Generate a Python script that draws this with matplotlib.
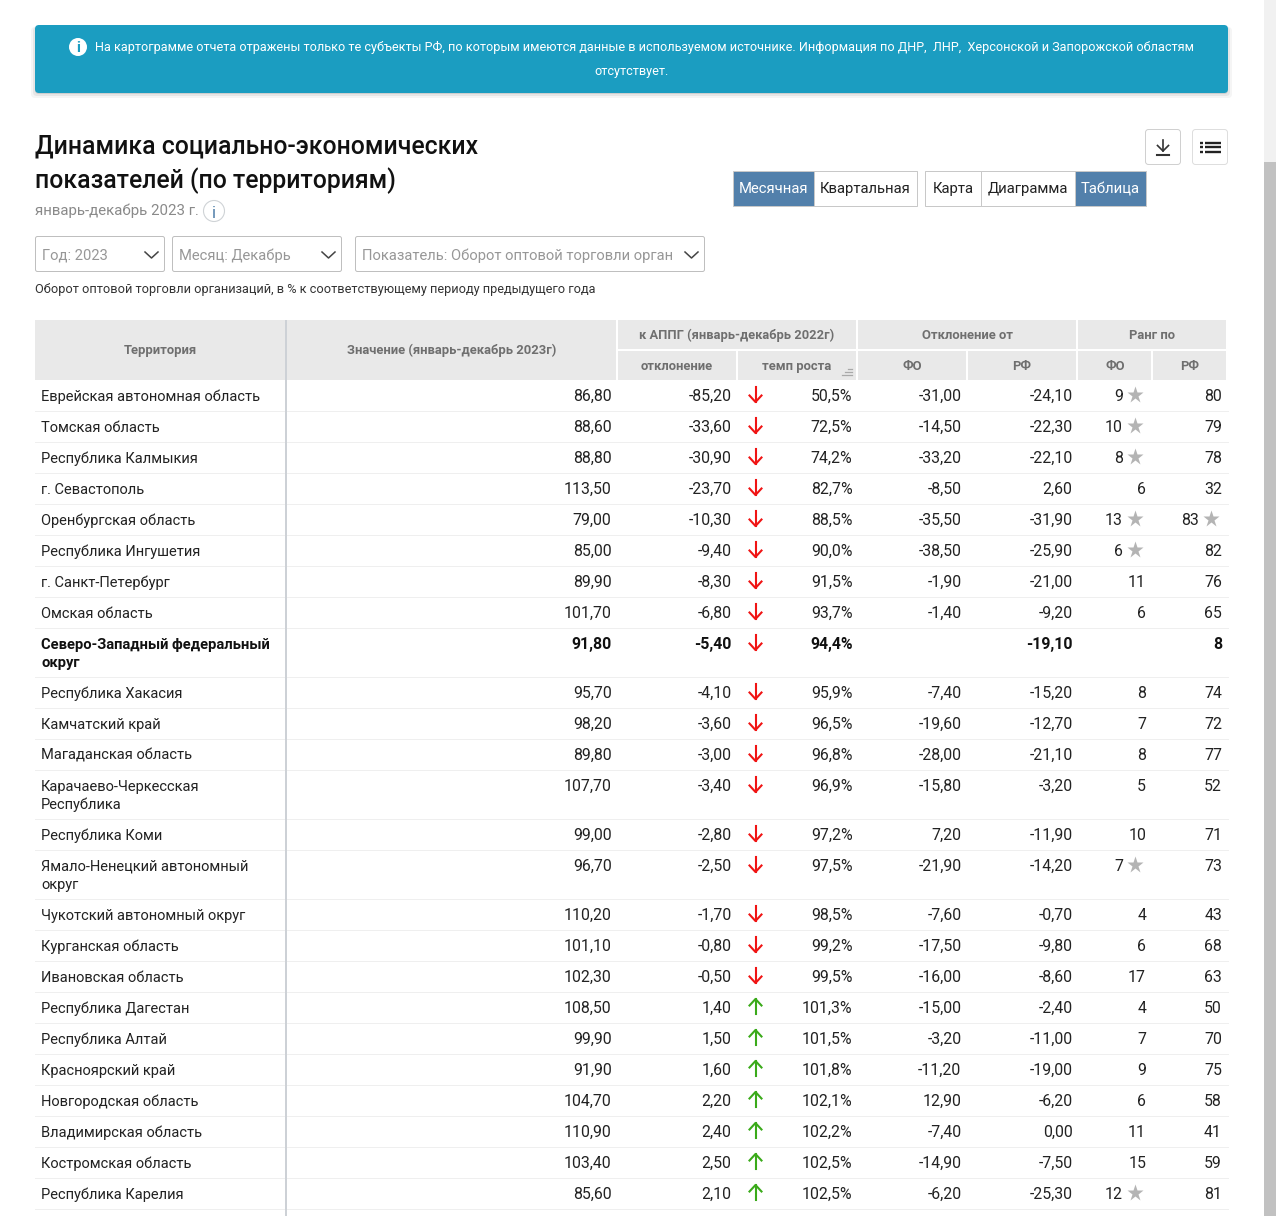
import matplotlib
matplotlib.use("Agg")
import matplotlib.pyplot as plt
from matplotlib.patches import Rectangle, FancyBboxPatch, Circle

plt.rcParams['font.family'] = ['Roboto', 'DejaVu Sans']

W, H = 1276, 1216

names = ["Еврейская автономная область", "Томская область", "Республика Калмыкия", "г. Севастополь",
         "Оренбургская область", "Республика Ингушетия", "г. Санкт-Петербург", "Омская область",
         "Северо-Западный федеральный\nокруг", "Республика Хакасия", "Камчатский край",
         "Магаданская область", "Карачаево-Черкесская\nРеспублика", "Республика Коми",
         "Ямало-Ненецкий автономный\nокруг", "Чукотский автономный округ", "Курганская область",
         "Ивановская область", "Республика Дагестан", "Республика Алтай", "Красноярский край",
         "Новгородская область", "Владимирская область", "Костромская область", "Республика Карелия"]
values = ["86,80", "88,60", "88,80", "113,50", "79,00", "85,00", "89,90", "101,70", "91,80", "95,70",
          "98,20", "89,80", "107,70", "99,00", "96,70", "110,20", "101,10", "102,30", "108,50", "99,90",
          "91,90", "104,70", "110,90", "103,40", "85,60"]
deviation = ["-85,20", "-33,60", "-30,90", "-23,70", "-10,30", "-9,40", "-8,30", "-6,80", "-5,40", "-4,10",
             "-3,60", "-3,00", "-3,40", "-2,80", "-2,50", "-1,70", "-0,80", "-0,50", "1,40", "1,50",
             "1,60", "2,20", "2,40", "2,50", "2,10"]
growth = ["50,5%", "72,5%", "74,2%", "82,7%", "88,5%", "90,0%", "91,5%", "93,7%", "94,4%", "95,9%",
          "96,5%", "96,8%", "96,9%", "97,2%", "97,5%", "98,5%", "99,2%", "99,5%", "101,3%", "101,5%",
          "101,8%", "102,1%", "102,2%", "102,5%", "102,5%"]
dev_fo = ["-31,00", "-14,50", "-33,20", "-8,50", "-35,50", "-38,50", "-1,90", "-1,40", "", "-7,40",
          "-19,60", "-28,00", "-15,80", "7,20", "-21,90", "-7,60", "-17,50", "-16,00", "-15,00", "-3,20",
          "-11,20", "12,90", "-7,40", "-14,90", "-6,20"]
dev_rf = ["-24,10", "-22,30", "-22,10", "2,60", "-31,90", "-25,90", "-21,00", "-9,20", "-19,10", "-15,20",
          "-12,70", "-21,10", "-3,20", "-11,90", "-14,20", "-0,70", "-9,80", "-8,60", "-2,40", "-11,00",
          "-19,00", "-6,20", "0,00", "-7,50", "-25,30"]
rank_fo = ["9", "10", "8", "6", "13", "6", "11", "6", "", "8", "7", "8", "5", "10", "7", "4", "6", "17",
           "4", "7", "9", "6", "11", "15", "12"]
rank_rf = ["80", "79", "78", "32", "83", "82", "76", "65", "8", "74", "72", "77", "52", "71", "73", "43",
           "68", "63", "50", "70", "75", "58", "41", "59", "81"]
star_fo = [0, 1, 2, 4, 5, 14, 24]
star_rf = [4]
bold_rows = [8]

TEXT = "#222222"
HEAD = "#6f6f6f"
HEAD_BG = "#e9e9e9"
BLUE = "#5280ab"
BORDER = "#c8c8c8"
FS = 10.5
NUM_FS = 11.4

fig = plt.figure(figsize=(W / 100, H / 100), dpi=100)
ax = fig.add_axes([0, 0, 1, 1])
ax.set_xlim(0, W)
ax.set_ylim(H, 0)
ax.axis("off")


def rect(x0, y0, x1, y1, fc="white", ec="none", lw=0.72, z=1):
    ax.add_patch(Rectangle((x0, y0), x1 - x0, y1 - y0, fc=fc, ec=ec, lw=lw, zorder=z))


def rbox(x0, y0, x1, y1, r=3, fc="white", ec="none", lw=0.72, alpha=1, z=1):
    ax.add_patch(FancyBboxPatch((x0 + r, y0 + r), x1 - x0 - 2 * r, y1 - y0 - 2 * r,
                                boxstyle="round,pad=%d,rounding_size=%d" % (r, r),
                                fc=fc, ec=ec, lw=lw, alpha=alpha, zorder=z))


def txt(x, y, s, size=FS, color=TEXT, ha="left", weight="normal", z=5):
    # y is the middle of the capitals, so all rows sit on the same baseline
    ax.text(x, y + 0.49 * size, s, fontsize=size, color=color, ha=ha, va="baseline", fontweight=weight, zorder=z)


# scrollbar
rect(1264, 0, 1276, H, fc="#f1f1f1")
rect(1264, 162, 1276, H, fc="#c1c1c1")

# banner
for grow, a in [(5, 0.04), (3, 0.06), (1, 0.1)]:
    rbox(35 - grow + 1, 27, 1228 + grow - 1, 93 + grow, r=4, fc="black", alpha=a, z=1)
rbox(35, 25, 1228, 93, r=4, fc="#1b9dc1", z=2)
ax.add_patch(Circle((78, 47), 9, fc="white", ec="none", zorder=3))
txt(78, 47, "i", size=11, color="#1b9dc1", ha="center", weight="bold")
txt(644.5, 47, "На картограмме отчета отражены только те субъекты РФ, по которым имеются данные в используемом "
    "источнике. Информация по ДНР,  ЛНР,  Херсонской и Запорожской областям",
    size=9.11, color="white", ha="center")
txt(632, 71, "отсутствует.", size=9.11, color="white", ha="center")

# title
txt(35, 145, "Динамика социально-экономических", size=17.8, color="#111111", weight="medium")
txt(35, 179, "показателей (по территориям)", size=17.8, color="#111111", weight="medium")
txt(35, 210, "январь-декабрь 2023 г.", size=10.8, color="#8a8a8a")
ax.add_patch(Circle((214, 211), 10.5, fc="white", ec="#cfd3d6", lw=0.8, zorder=3))
txt(214, 212, "i", size=12, color="#4a7ba6", ha="center")

# view switch buttons
for x0, x1, label, active in [(733, 814, "Месячная", True), (814, 917, "Квартальная", False),
                              (925, 981, "Карта", False), (981, 1075, "Диаграмма", False),
                              (1075, 1146, "Таблица", True)]:
    rect(x0, 170.5, x1, 205.5, fc=BLUE if active else "white", ec=BORDER, z=2)
    txt((x0 + x1) / 2, 188, label, size=10.7, color="white" if active else "#222222", ha="center")

# icon buttons
rbox(1145.5, 129.5, 1180.5, 164.5, r=3, ec="#d0d0d0", z=2)
rbox(1192.5, 129.5, 1227.5, 164.5, r=3, ec="#dedede", z=2)
ax.plot([1163, 1163], [140, 151], color="#333333", lw=1.2, zorder=4)
ax.plot([1157.5, 1163, 1168.5], [145.5, 151, 145.5], color="#333333", lw=1.2, zorder=4)
ax.plot([1157, 1169], [155, 155], color="#333333", lw=1.5, zorder=4)
for yy in (142.5, 147, 151.5):
    ax.plot([1200, 1203], [yy, yy], color="#222222", lw=1.7, solid_capstyle="butt", zorder=4)
    ax.plot([1205, 1221], [yy, yy], color="#222222", lw=1.7, solid_capstyle="butt", zorder=4)

# dropdowns
for x0, x1, label in [(35, 165, "Год: 2023"), (172, 342, "Месяц: Декабрь"),
                      (355, 705, "Показатель: Оборот оптовой торговли орган")]:
    rbox(x0 + 0.5, 236.5, x1 - 0.5, 271.5, r=2, ec="#bfbfbf", z=2)
    txt(x0 + 7, 254.5, label, size=10.6, color="#979797")
    ax.plot([x1 - 20, x1 - 13.5, x1 - 7], [252, 258, 252], color="#444444", lw=1.1, zorder=4)
txt(35, 288, "Оборот оптовой торговли организаций, в % к соответствующему периоду предыдущего года",
    size=9.23, color="#333333")

# table header
rect(35, 320, 1226, 380, fc=HEAD_BG)
for x in (616.5, 737, 857, 967, 1077, 1152):
    y0 = 320 if x in (616.5, 857, 1077) else 351
    ax.plot([x, x], [y0, 380], color="white", lw=1.44, solid_capstyle="butt", zorder=2)
ax.plot([617, 1226], [350, 350], color="white", lw=1.44, solid_capstyle="butt", zorder=2)
txt(160, 349, "Территория", size=9.4, color=HEAD, ha="center", weight="bold")
txt(452, 349, "Значение (январь-декабрь 2023г)", size=9.4, color=HEAD, ha="center", weight="bold")
txt(737, 334, "к АППГ (январь-декабрь 2022г)", size=9.3, color=HEAD, ha="center", weight="bold")
txt(967, 334, "Отклонение от", size=9.4, color=HEAD, ha="center", weight="bold")
txt(1152, 334, "Ранг по", size=9.4, color=HEAD, ha="center", weight="bold")
for x, s in [(677, "отклонение"), (797, "темп роста"), (912, "ФО"), (1022, "РФ"), (1115, "ФО"), (1190, "РФ")]:
    txt(x, 365, s, size=9.4, color=HEAD, ha="center", weight="bold")
for yy, x0 in [(369, 848), (372, 845), (375, 842)]:
    ax.plot([x0, 852], [yy, yy], color="#a9a9a9", lw=0.9, zorder=4)

# table rows
y = 380
for i, name in enumerate(names):
    h = 49 if "\n" in name else 31
    bottom = y + h
    yc = y + 15.5
    is_bold = i in bold_rows
    weight = "bold" if is_bold else "normal"
    color = "#111111" if is_bold else TEXT
    for j, line in enumerate(name.split("\n")):
        txt(41, yc + 18 * j, line, size=10.65 if is_bold else FS, weight=weight, color=color)
    for x, col in [(611.5, values), (731.5, deviation), (852.5, growth), (961.5, dev_fo), (1072.5, dev_rf)]:
        txt(x, yc, col[i], size=NUM_FS, ha="right", weight=weight, color=color)
    # rank columns, the star shifts the number to the left
    txt(1123 if i in star_fo else 1146, yc, rank_fo[i], size=NUM_FS, ha="right", weight=weight, color=color)
    txt(1199 if i in star_rf else 1222, yc, rank_rf[i], size=NUM_FS, ha="right", weight=weight, color=color)
    if i in star_fo:
        ax.plot(1135, yc - 1, marker="*", ms=12.5, color="#b4b4b4", mec="none", zorder=4)
    if i in star_rf:
        ax.plot(1211, yc - 1, marker="*", ms=12.5, color="#b4b4b4", mec="none", zorder=4)
    # arrow direction comes from the sign of the deviation
    if deviation[i].startswith("-"):
        c, tip, d = "#f01414", yc + 6.5, -1
    else:
        c, tip, d = "#3aaa1a", yc - 8.5, 1
    ax.plot([755.5, 755.5], [tip, tip + d * 15], color=c, lw=1.5, zorder=4)
    ax.plot([749.5, 755.5, 761.5], [tip + d * 6.5, tip, tip + d * 6.5], color=c, lw=1.5, zorder=4)
    ax.plot([35, 1228], [bottom - 0.5, bottom - 0.5], color="#efefef", lw=0.72, zorder=2)
    y = bottom

# divider of the frozen first column
ax.plot([285.5, 285.5], [320, H], color="#cdd1d6", lw=1.44, solid_capstyle="butt", zorder=3)

fig.savefig("out.png", dpi=100, facecolor="white")
